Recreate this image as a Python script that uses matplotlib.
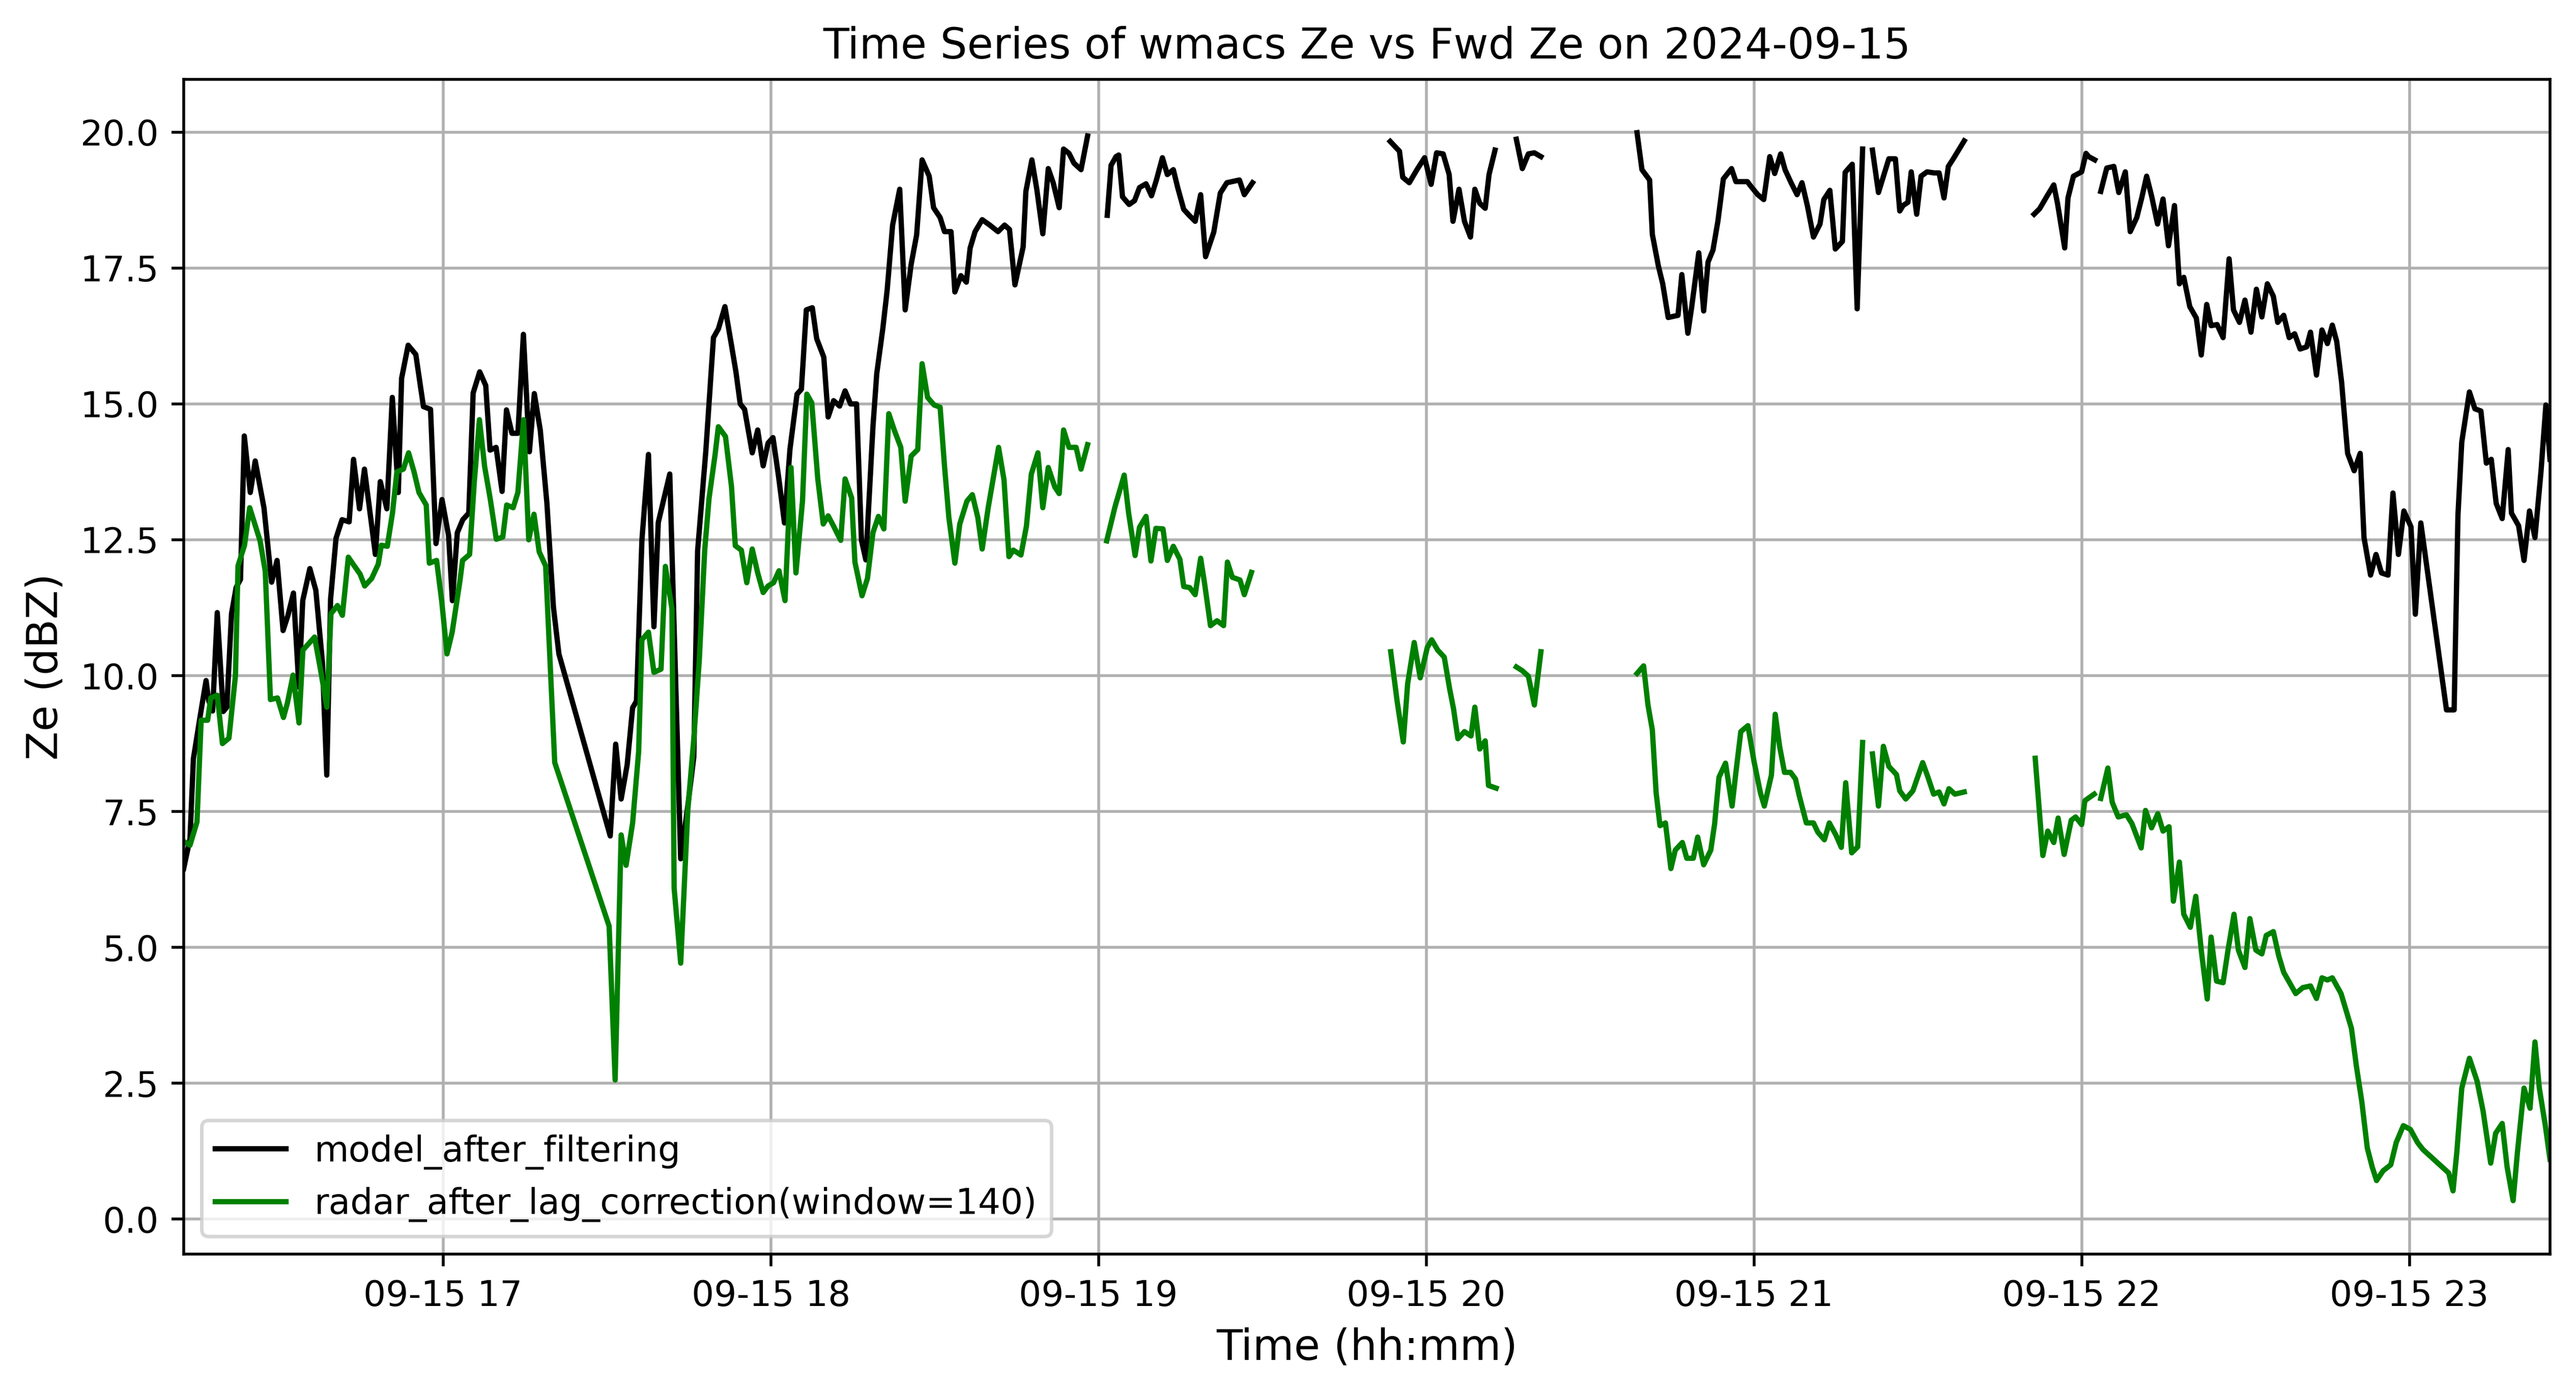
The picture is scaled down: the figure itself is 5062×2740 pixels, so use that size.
import numpy as np
import pandas as pd
import matplotlib
matplotlib.use("Agg")
import matplotlib.pyplot as plt

nan = np.nan

# -----------------------------------------------------------------------------
# Data (minutes after 2024-09-15 16:00, Ze in dBZ)
# nan rows mark the gaps where the line is broken
# -----------------------------------------------------------------------------

model_min = [
    12.5, 13.66, 14.28, 15.56, 16.6, 17.08, 17.8, 18.65, 19.74, 20.4,
    21.26, 22.1, 22.9, 23.6, 24.7, 25.6, 27.2, 28.6, 29.6, 30.7,
    31.6, 32.6, 33.6, 34.3, 35.6, 36.7, 37.9, 38.7, 39.4, 40.4,
    41.5, 42.8, 43.6, 44.7, 45.6, 47.6, 48.5, 49.7, 50.7, 51.8,
    52.4, 53.6, 55.0, 56.4, 57.7, 58.7, 59.8, 61.0, 61.7, 62.6,
    63.6, 64.7, 65.5, 66.7, 67.8, 68.6, 69.7, 70.8, 71.6, 72.6,
    73.7, 74.7, 75.8, 76.7, 77.8, 79.0, 80.2, 81.2, 90.6, 91.6,
    92.6, 93.7, 94.7, 95.4, 96.4, 97.6, 98.6, 99.4, 101.5, 103.5,
    104.8, 105.9, 106.6, 108.1, 109.5, 110.4, 111.6, 112.7, 113.6, 114.4,
    115.2, 116.6, 117.6, 118.6, 119.5, 120.4, 121.4, 122.5, 123.5, 124.8,
    125.6, 126.5, 127.6, 128.4, 129.7, 130.5, 131.5, 132.6, 133.6, 134.6,
    135.7, 136.6, 137.4, 138.7, 139.4, 140.5, 141.3, 142.3, 143.6, 144.6,
    145.7, 146.7, 147.7, 149.0, 149.8, 151.0, 151.8, 153.0, 153.7, 154.8,
    155.8, 156.5, 157.4, 158.7, 160.1, 161.6, 162.8, 163.7, 164.7, 166.2,
    166.7, 167.8, 168.7, 169.8, 170.8, 171.7, 172.8, 173.6, 174.6, 175.5,
    176.8, 178.0, 180.0,
    181.6, 182.3, 183.2, 183.7, 184.4, 185.6, 186.6, 187.5, 188.7, 189.7,
    190.6, 191.7, 192.6, 193.7, 194.5, 195.6, 196.6, 197.7, 198.7, 199.6,
    201.1, 202.3, 203.5, 205.8, 206.7, 208.2, 220.0,
    233.4, 235.1, 235.7, 236.9, 238.3, 239.7, 240.9, 241.9, 243.1, 244.2,
    244.9, 246.0, 247.0, 248.1, 248.9, 249.8, 250.8, 251.5, 252.6, 254.5,
    256.5, 257.6, 258.7, 259.8, 261.0, 270.0,
    278.6, 279.5, 280.9, 281.4, 282.5, 283.3, 284.3, 286.1, 286.8, 287.9,
    288.6, 289.9, 290.8, 291.6, 292.5, 293.4, 294.4, 295.9, 296.7, 298.8,
    299.4, 300.7, 301.8, 302.9, 303.8, 304.9, 305.7, 306.8, 307.9, 308.8,
    309.8, 310.9, 312.1, 312.8, 313.9, 314.9, 316.2, 316.7, 318.0, 318.9,
    319.9, 320.8,
    321.7, 322.8, 324.7, 325.9, 326.7, 327.3, 328.2, 328.8, 329.8, 330.6,
    331.7, 333.0, 333.9, 334.8, 335.6, 336.5, 338.5, 345.0,
    351.3, 352.3, 353.7, 354.9, 355.6, 356.9, 357.5, 358.5, 360.0, 360.8,
    361.3, 362.4, 363.0,
    363.5, 364.6, 365.9, 366.8, 368.0, 368.9, 370.1, 371.0, 371.9, 372.8,
    373.9, 374.9, 375.9, 377.0, 377.9, 378.7, 379.8, 381.0, 381.9, 382.9,
    383.7, 384.8, 385.9, 387.0, 387.8, 388.9, 389.9, 391.0, 392.0, 393.0,
    394.0, 395.1, 395.9, 397.0, 398.0, 399.0, 400.0, 401.2, 401.9, 403.0,
    404.0, 405.0, 405.9, 406.7, 407.6, 408.7, 409.9, 411.0, 411.7, 412.9,
    413.9, 414.9, 416.1, 417.0, 418.0, 419.0, 420.3, 421.1, 422.1, 426.8,
    428.2, 428.9, 429.6, 431.0, 432.0, 433.1, 434.1, 435.0, 435.9, 437.0,
    438.1, 438.7, 440.0, 441.0, 442.0, 443.0, 444.1, 445.0, 445.75,
]
model_ze = [
    6.45, 7.0, 8.47, 9.28, 9.91, 9.54, 9.35, 11.16, 9.34, 9.42,
    11.14, 11.62, 11.77, 14.41, 13.37, 13.95, 13.09, 11.72, 12.12, 10.83,
    11.11, 11.52, 9.79, 11.38, 11.97, 11.57, 10.25, 8.17, 11.41, 12.53,
    12.87, 12.83, 13.98, 13.07, 13.80, 12.23, 13.57, 13.07, 15.12, 13.37,
    15.47, 16.08, 15.91, 14.95, 14.90, 12.43, 13.24, 12.58, 11.38, 12.63,
    12.87, 12.99, 15.20, 15.59, 15.34, 14.15, 14.20, 13.39, 14.89, 14.46,
    14.46, 16.28, 14.12, 15.19, 14.51, 13.18, 11.26, 10.40, 7.05, 8.74,
    7.73, 8.36, 9.41, 9.53, 12.49, 14.07, 10.90, 12.82, 13.71, 6.63,
    7.6, 8.5, 12.3, 14.13, 16.22, 16.38, 16.79, 16.14, 15.60, 15.0,
    14.90, 14.10, 14.52, 13.86, 14.28, 14.38, 13.68, 12.81, 14.16, 15.18,
    15.27, 16.73, 16.77, 16.20, 15.86, 14.76, 15.06, 14.96, 15.24, 15.0,
    15.0, 12.49, 12.13, 14.58, 15.56, 16.38, 17.09, 18.29, 18.95, 16.73,
    17.57, 18.11, 19.49, 19.19, 18.61, 18.43, 18.17, 18.17, 17.06, 17.36,
    17.24, 17.87, 18.17, 18.39, 18.29, 18.17, 18.29, 18.21, 17.19, 17.89,
    18.91, 19.49, 18.95, 18.13, 19.33, 19.07, 18.61, 19.69, 19.61, 19.43,
    19.31, 19.93, nan,
    18.47, 19.39, 19.55, 19.58, 18.81, 18.67, 18.74, 18.98, 19.05, 18.83,
    19.12, 19.53, 19.22, 19.31, 18.98, 18.58, 18.47, 18.36, 18.85, 17.71,
    18.16, 18.88, 19.07, 19.12, 18.85, 19.07, nan,
    19.83, 19.65, 19.17, 19.07, 19.31, 19.53, 19.04, 19.62, 19.60, 19.22,
    18.36, 18.95, 18.36, 18.07, 18.95, 18.69, 18.60, 19.22, 19.67, nan,
    19.87, 19.33, 19.60, 19.62, 19.55, nan,
    19.99, 19.31, 19.12, 18.12, 17.54, 17.21, 16.59, 16.63, 17.38, 16.30,
    16.78, 17.78, 16.71, 17.61, 17.83, 18.36, 19.14, 19.33, 19.09, 19.09,
    19.01, 18.85, 18.76, 19.55, 19.24, 19.60, 19.31, 19.07, 18.85, 19.07,
    18.64, 18.07, 18.31, 18.76, 18.93, 17.85, 17.99, 19.26, 19.41, 16.75,
    19.69, nan,
    19.67, 18.89, 19.51, 19.51, 18.55, 18.65, 18.71, 19.27, 18.49, 19.19,
    19.27, 19.25, 19.25, 18.79, 19.37, 19.51, 19.84, nan,
    18.49, 18.59, 18.83, 19.03, 18.68, 17.87, 18.79, 19.19, 19.27, 19.61,
    19.55, 19.49, nan,
    18.91, 19.34, 19.37, 18.89, 19.27, 18.17, 18.43, 18.79, 19.19, 18.83,
    18.31, 18.77, 17.91, 18.65, 17.21, 17.33, 16.79, 16.58, 15.90, 16.83,
    16.44, 16.46, 16.22, 17.67, 16.73, 16.50, 16.91, 16.32, 17.11, 16.60,
    17.21, 16.98, 16.50, 16.63, 16.22, 16.29, 16.01, 16.05, 16.32, 15.53,
    16.36, 16.11, 16.45, 16.15, 15.40, 14.09, 13.77, 14.09, 12.54, 11.85,
    12.23, 11.89, 11.85, 13.36, 12.23, 13.03, 12.74, 11.13, 12.81, 9.37,
    9.37, 12.95, 14.30, 15.22, 14.91, 14.87, 13.91, 13.98, 13.17, 12.89,
    14.16, 12.99, 12.76, 12.12, 13.03, 12.54, 13.75, 14.98, 13.98,
]

radar_min = [
    12.5, 13.66, 14.94, 15.70, 16.89, 17.46, 18.65, 19.60, 20.79, 21.98,
    22.45, 23.64, 24.59, 26.49, 27.44, 28.39, 29.68, 30.77, 31.48, 32.53,
    33.62, 34.33, 36.47, 37.66, 38.71, 39.47, 40.66, 41.56, 42.65, 43.74,
    44.79, 45.65, 46.93, 48.12, 48.69, 49.78, 50.73, 51.54, 52.73, 53.68,
    54.68, 55.58, 56.91, 57.48, 58.81, 59.76, 60.71, 61.66, 63.09, 63.56,
    64.85, 65.70, 66.65, 67.60, 68.65, 69.74, 70.93, 71.64, 72.83, 73.69,
    74.73, 75.68, 76.64, 77.59, 78.77, 80.44, 90.4, 91.5, 92.6, 93.5,
    94.7, 95.8, 96.4, 97.6, 98.6, 99.9, 100.7, 101.9, 102.3, 103.5,
    104.8, 105.9, 106.9, 107.9, 108.7, 109.8, 110.4, 111.7, 112.8, 113.5,
    114.6, 115.6, 116.6, 117.6, 118.6, 119.5, 120.5, 121.5, 122.6, 123.7,
    124.6, 125.8, 126.6, 127.5, 128.6, 129.6, 130.5, 131.5, 132.8, 133.6,
    134.8, 135.4, 136.7, 137.7, 138.7, 139.7, 140.7, 141.6, 142.6, 143.8,
    144.6, 145.7, 146.9, 147.7, 148.7, 149.9, 151.0, 151.8, 152.6, 153.7,
    154.6, 155.9, 156.9, 157.9, 158.7, 159.8, 161.7, 162.7, 163.6, 164.4,
    165.8, 166.8, 167.7, 168.9, 169.8, 170.8, 172.0, 172.8, 173.6, 174.6,
    175.9, 176.8, 178.0, 180.0,
    181.5, 183.0, 184.7, 185.5, 186.7, 187.5, 188.7, 189.6, 190.5, 191.8,
    192.6, 193.7, 194.9, 195.6, 196.7, 197.7, 198.7, 199.4, 200.5, 201.7,
    202.9, 203.6, 204.5, 205.9, 206.7, 208.0, 220.0,
    233.5, 234.7, 235.8, 236.6, 237.8, 238.9, 240.2, 241.0, 242.1, 243.3,
    244.3, 245.0, 245.8, 247.0, 248.2, 248.9, 249.8, 250.8, 251.4, 252.8,
    254.5,
    256.5, 257.6, 258.7, 259.8, 261.0, 270.0,
    278.6, 279.8, 280.6, 281.4, 282.1, 282.8, 283.8, 284.8, 285.6, 286.9,
    287.7, 288.9, 289.7, 290.8, 292.1, 292.8, 293.6, 294.8, 296.0, 296.7,
    297.6, 298.9, 300.0, 301.2, 301.9, 303.2, 303.9, 304.7, 305.6, 306.7,
    307.6, 308.3, 309.6, 310.9, 311.7, 312.9, 313.8, 315.0, 316.0, 316.8,
    317.9, 319.0, 319.9, 320.8,
    321.7, 322.8, 323.7, 324.7, 326.1, 326.7, 327.8, 329.1, 330.9, 331.8,
    332.9, 333.9, 334.8, 335.7, 336.8, 338.5, 345.0,
    351.5, 352.9, 353.8, 354.9, 355.7, 356.8, 358.1, 358.9, 360.0, 360.6,
    362.3, 363.0,
    363.5, 364.8, 365.6, 366.7, 368.2, 369.2, 370.9, 371.7, 372.8, 373.95,
    374.9, 376.0, 376.8, 377.9, 378.7, 379.9, 380.9, 381.9, 383.0, 383.7,
    384.7, 385.9, 386.8, 387.9, 388.7, 389.9, 390.8, 391.9, 393.0, 393.8,
    395.1, 396.1, 397.0, 399.2, 400.5, 401.9, 403.0, 404.0, 405.0, 405.9,
    407.5, 409.4, 410.3, 411.3, 412.3, 413.2, 414.0, 415.2, 416.6, 417.6,
    418.9, 420.2, 421.5, 422.5, 427.2, 428.0, 428.7, 429.6, 431.0, 432.4,
    433.5, 434.9, 435.8, 437.0, 437.9, 439.0, 439.8, 441.0, 442.1, 443.0,
    443.8, 444.9, 445.75,
]
radar_ze = [
    6.95, 6.88, 7.31, 9.18, 9.18, 9.59, 9.64, 8.75, 8.85, 10.0,
    12.02, 12.40, 13.09, 12.48, 11.92, 9.56, 9.59, 9.23, 9.49, 10.01,
    9.13, 10.47, 10.71, 10.05, 9.42, 11.14, 11.29, 11.11, 12.18, 12.02,
    11.87, 11.65, 11.79, 12.05, 12.40, 12.38, 12.99, 13.75, 13.80, 14.10,
    13.75, 13.37, 13.14, 12.07, 12.12, 11.36, 10.40, 10.80, 11.75, 12.12,
    12.23, 13.55, 14.71, 13.85, 13.24, 12.51, 12.55, 13.14, 13.09, 13.37,
    14.71, 12.50, 12.97, 12.28, 12.02, 8.40, 5.39, 2.56, 7.07, 6.51,
    7.29, 8.60, 10.66, 10.80, 10.06, 10.12, 12.01, 11.23, 6.09, 4.71,
    7.52, 8.84, 10.28, 12.31, 13.27, 14.07, 14.58, 14.40, 13.48, 12.39,
    12.31, 11.71, 12.33, 11.89, 11.53, 11.65, 11.71, 11.93, 11.38, 13.83,
    11.89, 13.21, 15.18, 15.02, 13.62, 12.79, 12.94, 12.75, 12.49, 13.62,
    13.27, 12.09, 11.47, 11.79, 12.63, 12.93, 12.70, 14.82, 14.52, 14.20,
    13.21, 14.04, 14.16, 15.74, 15.12, 14.98, 14.94, 13.86, 12.91, 12.07,
    12.79, 13.21, 13.33, 12.91, 12.33, 13.09, 14.20, 13.60, 12.19, 12.31,
    12.22, 12.75, 13.71, 14.10, 13.09, 13.83, 13.47, 13.35, 14.52, 14.20,
    14.20, 13.80, 14.25, nan,
    12.48, 13.10, 13.69, 13.0, 12.21, 12.73, 12.93, 12.11, 12.71, 12.70,
    12.12, 12.38, 12.14, 11.64, 11.62, 11.49, 12.16, 11.71, 10.92, 11.01,
    10.92, 12.09, 11.81, 11.76, 11.49, 11.90, nan,
    10.44, 9.51, 8.78, 9.85, 10.61, 9.96, 10.52, 10.66, 10.47, 10.34,
    9.75, 9.39, 8.84, 8.97, 8.89, 9.42, 8.65, 8.80, 7.98, 7.93,
    nan,
    10.16, 10.09, 9.99, 9.46, 10.44, nan,
    10.04, 10.18, 9.46, 9.0, 7.84, 7.24, 7.29, 6.45, 6.79, 6.93,
    6.64, 6.64, 7.03, 6.52, 6.79, 7.27, 8.13, 8.39, 7.60, 8.22,
    8.97, 9.08, 8.43, 7.84, 7.60, 8.17, 9.29, 8.70, 8.22, 8.22,
    8.10, 7.79, 7.29, 7.29, 7.12, 6.98, 7.29, 7.07, 6.84, 8.03,
    6.74, 6.85, 8.77, nan,
    8.56, 7.60, 8.70, 8.33, 8.18, 7.88, 7.73, 7.88, 8.40, 8.15,
    7.82, 7.86, 7.64, 7.92, 7.82, 7.86, nan,
    8.48, 6.69, 7.14, 6.93, 7.38, 6.71, 7.34, 7.40, 7.26, 7.70,
    7.82, nan,
    7.74, 8.30, 7.67, 7.40, 7.44, 7.28, 6.83, 7.52, 7.20, 7.46,
    7.14, 7.22, 5.85, 6.57, 5.61, 5.37, 5.94, 4.95, 4.05, 5.19,
    4.38, 4.35, 4.95, 5.61, 4.95, 4.63, 5.53, 4.95, 4.88, 5.22,
    5.29, 4.84, 4.54, 4.15, 4.26, 4.29, 4.06, 4.44, 4.40, 4.44,
    4.15, 3.51, 2.82, 2.16, 1.31, 0.96, 0.71, 0.89, 1.0, 1.41,
    1.72, 1.65, 1.41, 1.28, 0.85, 0.52, 1.24, 2.41, 2.96, 2.54,
    1.99, 1.03, 1.58, 1.76, 0.96, 0.34, 1.24, 2.41, 2.04, 3.26,
    2.41, 1.72, 1.10,
]

day_start = pd.Timestamp("2024-09-15 16:00")
model_time = day_start + pd.to_timedelta(model_min, unit="min")
radar_time = day_start + pd.to_timedelta(radar_min, unit="min")

# -----------------------------------------------------------------------------
# Plot
# -----------------------------------------------------------------------------

fig = plt.figure(figsize=(10.124, 5.48), dpi=500)
ax = fig.add_axes([0.0713, 0.1004, 0.9186, 0.8427])

ax.plot(model_time, model_ze, color="black", label="model_after_filtering")
ax.plot(radar_time, radar_ze, color="green",
        label="radar_after_lag_correction(window=140)")

ax.set_xlim(model_time.min(), model_time.max())
ax.set_title("Time Series of wmacs Ze vs Fwd Ze on 2024-09-15", fontsize=12)
ax.set_xlabel("Time (hh:mm)", fontsize=12)
ax.set_ylabel("Ze (dBZ)", fontsize=12)
ax.grid(True)
ax.legend(loc="lower left")

fig.savefig("out.png", dpi=500)
